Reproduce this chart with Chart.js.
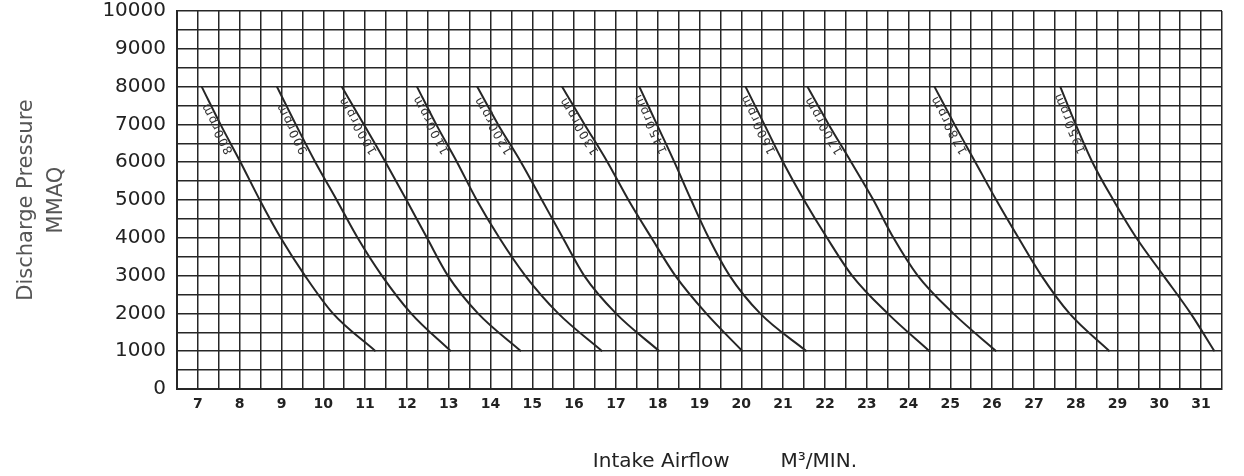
<!DOCTYPE html>
<html>
<head>
<meta charset="utf-8">
<script src="https://cdn.jsdelivr.net/npm/chart.js@4.4.1/dist/chart.umd.min.js"></script>
<style>
  html, body { margin: 0; padding: 0; background: #fff; }
  #chart { display: block; }
</style>
</head>
<body>
<canvas id="chart" width="1244" height="476"></canvas>
<script>
// pressure levels (MMAQ) at which each curve was read
const pressureLevels = [8000, 7000, 6000, 5000, 4000, 3000, 2000, 1000];

// intake airflow (M3/MIN) for each speed curve, one value per pressure level
const airflow800 = [7.09, 7.54, 8.02, 8.48, 8.98, 9.56, 10.23, 11.25];
const airflow900 = [8.89, 9.34, 9.81, 10.32, 10.82, 11.40, 12.10, 13.05];
const airflow1000 = [10.44, 10.97, 11.49, 11.99, 12.48, 12.98, 13.70, 14.73];
const airflow1100 = [12.24, 12.70, 13.20, 13.67, 14.21, 14.83, 15.62, 16.67];
const airflow1200 = [13.68, 14.18, 14.73, 15.23, 15.73, 16.24, 17.00, 18.04];
const airflow1300 = [15.71, 16.25, 16.80, 17.30, 17.85, 18.42, 19.16, 20.03];
const airflow1450 = [17.56, 17.98, 18.40, 18.80, 19.22, 19.72, 20.45, 21.56];
const airflow1600 = [20.10, 20.55, 21.00, 21.50, 22.05, 22.65, 23.50, 24.50];
const airflow1700 = [21.58, 22.09, 22.63, 23.16, 23.64, 24.22, 25.07, 26.10];
const airflow1780 = [24.62, 25.10, 25.60, 26.10, 26.63, 27.18, 27.85, 28.81];
const airflow1950 = [27.63, 28.00, 28.40, 28.90, 29.45, 30.10, 30.75, 31.32];

const curveNames = ['800rpm', '900rpm', '1000rpm', '1100rpm', '1200rpm', '1300rpm',
                    '1450rpm', '1600rpm', '1700rpm', '1780rpm', '1950rpm'];
const curveValues = [airflow800, airflow900, airflow1000, airflow1100, airflow1200, airflow1300,
                     airflow1450, airflow1600, airflow1700, airflow1780, airflow1950];

// axis ranges / ticks
const xMin = 6.5, xMax = 31.5, xStep = 0.5;
const yMin = 0, yMax = 10000, yStep = 500;

const ink = '#262626';

// writes the speed label along the top part of every curve
const curveLabels = {
    id: 'curveLabels',
    afterDatasetsDraw(chart) {
        const { ctx, scales: { x, y } } = chart;
        ctx.save();
        ctx.font = '12px "DejaVu Sans"';
        ctx.fillStyle = '#333';
        ctx.letterSpacing = '1.5px';
        ctx.textBaseline = 'alphabetic';
        chart.data.datasets.forEach(ds => {
            const top = ds.data[0], low = ds.data[2];
            const x0 = x.getPixelForValue(top.x), y0 = y.getPixelForValue(top.y);
            const x2 = x.getPixelForValue(low.x), y2 = y.getPixelForValue(low.y);
            const sx = x0 + (x2 - x0) * 0.85;
            const sy = y0 + (y2 - y0) * 0.85;
            const ang = Math.atan2(y0 - sy, x0 - sx);
            const ux = Math.sin(ang), uy = -Math.cos(ang);
            ctx.save();
            ctx.translate(sx + ux * 2, sy + uy * 2);
            ctx.rotate(ang);
            ctx.fillText(ds.label, 0, 0);
            ctx.restore();
        });
        ctx.restore();
    }
};

const datasets = curveValues.map((flows, i) => ({
    label: curveNames[i],
    data: pressureLevels.map((p, j) => ({ x: flows[j], y: p })),
    borderColor: ink,
    borderWidth: 2,
    pointRadius: 0,
    cubicInterpolationMode: 'monotone',
    fill: false
}));

new Chart(document.getElementById('chart'), {
    type: 'line',
    data: { datasets },
    plugins: [curveLabels],
    options: {
        responsive: false,
        animation: false,
        devicePixelRatio: 1,
        layout: { padding: { top: 0, right: 22, bottom: 0, left: 0 } },
        plugins: {
            legend: { display: false },
            tooltip: { enabled: false }
        },
        scales: {
            x: {
                type: 'linear',
                min: xMin,
                max: xMax,
                afterFit: scale => { scale.height = 87; },
                ticks: {
                    stepSize: xStep,
                    autoSkip: false,
                    maxRotation: 0,
                    padding: 7,
                    color: '#222',
                    font: { family: 'DejaVu Sans', size: 14, weight: 'bold' },
                    callback: v => Number.isInteger(v) ? String(v) : ''
                },
                grid: { color: ink, lineWidth: 1.5, drawTicks: false },
                border: { color: ink, width: 2 },
                title: {
                    display: true,
                    text: '\u00a0'.repeat(8) + 'Intake Airflow' + '\u00a0'.repeat(8) + 'M\u00b3/MIN.',
                    color: '#222',
                    font: { family: 'DejaVu Sans', size: 20 },
                    padding: { top: 0, bottom: 2 }
                }
            },
            y: {
                min: yMin,
                max: yMax,
                afterFit: scale => {
                    scale.width = 177;
                    scale.paddingTop = 11;
                },
                ticks: {
                    stepSize: yStep,
                    autoSkip: false,
                    padding: 11,
                    color: '#222',
                    font: { family: 'DejaVu Sans', size: 20 },
                    callback: v => v % 1000 === 0 ? String(v) : ''
                },
                grid: { color: ink, lineWidth: 1.5, drawTicks: false },
                border: { color: ink, width: 2 },
                title: {
                    display: true,
                    text: ['Discharge Pressure', 'MMAQ'],
                    color: '#555',
                    font: { family: 'DejaVu Sans', size: 21, lineHeight: 1.4 },
                    padding: { top: 12, bottom: 0 }
                }
            }
        }
    }
});
</script>
</body>
</html>
